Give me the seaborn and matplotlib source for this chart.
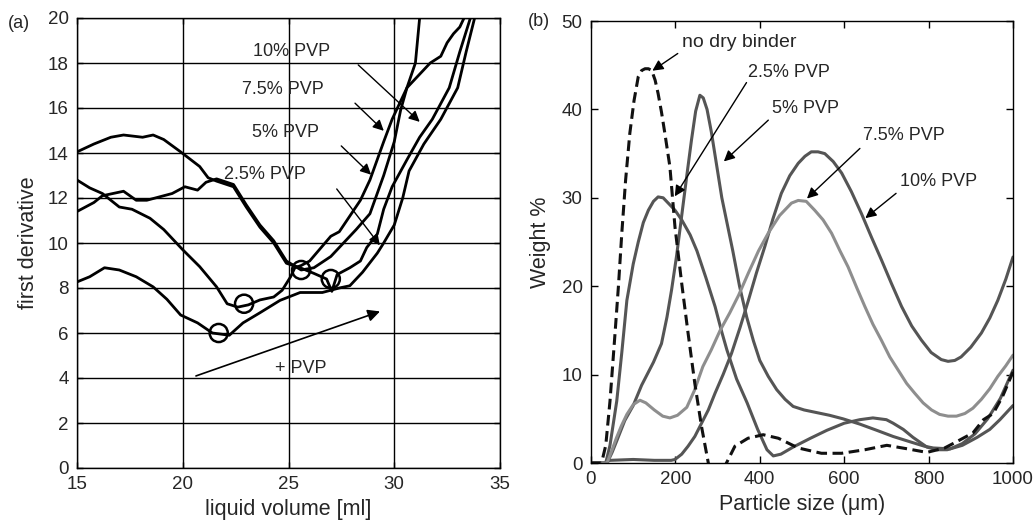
import pandas as pd
import seaborn as sns
import matplotlib.pyplot as plt

# ---- (a) first derivative vs liquid volume ----
c1_x = [15, 15.6, 16.3, 17.0, 17.8, 18.6, 19.25, 19.9, 20.7, 21.4, 22.2, 22.85, 23.65, 24.6, 25.55,
        26.6, 27.4, 27.9, 28.5, 29.2, 29.5, 30.0, 30.4, 30.7, 31.4, 32.2, 33.0, 33.4, 33.8]
c1_y = [8.27, 8.5, 8.9, 8.8, 8.5, 8.05, 7.5, 6.8, 6.45, 6.0, 5.9, 6.45, 6.9, 7.45, 7.8,
        7.8, 8.0, 8.1, 8.7, 9.55, 10.0, 10.8, 12.0, 13.2, 14.4, 15.5, 16.9, 18.5, 20.0]

c2_x = [15, 15.6, 16.2, 17.0, 17.6, 18.45, 19.1, 20.0, 20.8, 21.6, 22.1, 22.6, 23.1, 23.65, 24.3,
        24.7, 25.1, 25.3, 25.6, 26.0, 27.0, 27.4, 27.9, 28.4, 28.85, 29.5, 29.9, 30.6, 31.1, 31.7,
        32.2, 32.5, 32.8, 33.1, 33.3]
c2_y = [12.8, 12.45, 12.2, 11.6, 11.5, 11.1, 10.6, 9.7, 8.95, 8.05, 7.3, 7.15, 7.25, 7.47, 7.6,
        7.9, 8.5, 8.9, 9.0, 9.2, 10.3, 10.5, 11.2, 11.9, 12.8, 14.5, 15.5, 16.9, 17.4, 18.0,
        18.3, 18.9, 19.3, 19.6, 20.0]

c3_x = [15, 15.8, 16.2, 17.2, 17.8, 18.3, 18.9, 19.5, 20.1, 20.7, 21.1, 21.6, 22.4, 23.0, 23.65,
        24.3, 24.9, 25.6, 26.2, 27.0, 27.6, 28.2, 28.85, 29.5, 30.0, 30.3, 30.6, 31.0, 31.2]
c3_y = [11.4, 11.8, 12.1, 12.3, 11.9, 11.9, 12.05, 12.2, 12.5, 12.35, 12.7, 12.85, 12.6, 11.7, 10.8,
        10.1, 9.2, 8.8, 8.9, 9.4, 10.0, 10.6, 11.3, 13.0, 14.5, 15.9, 16.9, 18.0, 20.0]

c4_x = [15, 15.8, 16.6, 17.2, 18.1, 18.6, 19.1, 19.9, 20.8, 21.2, 21.6, 22.4, 23.0, 23.65, 24.3,
        24.9, 25.55, 26.2, 26.8, 27.05, 27.3, 27.9, 28.4, 28.7, 29.2, 29.5, 29.9, 30.6, 31.2, 31.8,
        32.6, 33.1, 33.6]
c4_y = [14.05, 14.4, 14.7, 14.8, 14.7, 14.8, 14.6, 14.05, 13.4, 12.9, 12.75, 12.5, 11.6, 10.7, 10.0,
        9.1, 8.9, 8.65, 8.4, 7.85, 8.6, 8.9, 9.2, 9.8, 10.4, 11.5, 12.5, 13.7, 14.7, 15.5,
        16.9, 18.5, 20.0]

min_x = [21.7, 22.9, 25.6, 27.0]
min_y = [6.0, 7.3, 8.8, 8.4]

a_labels = ["10% PVP", "7.5% PVP", "5% PVP", "2.5% PVP"]
a_text = [(23.33, 18.5), (22.8, 16.8), (23.27, 14.9), (21.95, 13.05)]
a_tail = [(28.2, 18.0), (28.05, 16.3), (27.4, 14.4), (27.2, 12.5)]
a_tip = [(31.3, 15.3), (29.6, 14.9), (29.0, 12.95), (29.4, 9.8)]

# ---- (b) weight % vs particle size ----
nb_x = [0, 25, 35, 45, 57, 65, 73, 82, 92, 102, 112, 120, 128, 136, 144, 152, 159, 167, 175, 187,
        199, 207, 215, 230, 246, 262, 278, 290, 305, 321, 341, 372, 408, 444, 491, 546, 594, 649,
        701, 750, 796, 838, 870, 905, 930, 953, 975, 1000]
nb_y = [0, 0, 2, 7, 14.7, 20, 26, 32, 37.3, 41, 43.7, 44.4, 44.6, 44.6, 44.4, 43.3, 41.8, 39.7, 37.3, 33.5,
        26.7, 23.5, 20.3, 14.7, 9.0, 4.1, 0, -1.5, -1.5, 0, 1.9, 2.8, 3.2, 2.8, 1.7, 1.1, 1.1, 1.5,
        2.0, 1.6, 1.2, 1.7, 2.5, 3.4, 4.9, 5.6, 7.5, 10.3]

p25_x = [0, 35, 45, 61, 73, 85, 100, 112, 124, 136, 148, 159, 171, 183, 199, 215, 235, 251, 272, 294,
         310, 322, 345, 370, 395, 417, 432, 450, 479, 520, 559, 600, 637, 668, 700, 716, 740, 763, 796,
         820, 844, 880, 915, 945, 969, 1000]
p25_y = [0, 0, 2, 7, 12.5, 18.4, 22.5, 25, 27.2, 28.6, 29.6, 30.1, 30.0, 29.4, 28.6, 27.5, 25.8, 24.0, 21, 17.7,
         14.8, 12.8, 9.5, 6.8, 3.8, 1.5, 0.8, 1.0, 1.8, 2.8, 3.7, 4.5, 4.9, 5.1, 4.9, 4.5, 3.8, 2.9, 1.8,
         1.5, 1.5, 2.0, 2.9, 3.8, 4.9, 6.5]

p5_x = [0, 38, 50, 61, 80, 100, 120, 148, 167, 180, 191, 203, 215, 227, 238, 248, 258, 266, 275, 285,
        295, 310, 323, 336, 352, 369, 385, 400, 420, 440, 460, 479, 505, 535, 565, 597, 637, 677, 716,
        756, 790, 811, 851, 880, 910, 940, 970, 1000]
p5_y = [0, 0, 1.2, 2.5, 4.8, 6.5, 8.8, 11.4, 13.5, 16.5, 19.6, 23.5, 28, 32.5, 36.5, 39.8, 41.6, 41.3, 40, 37.5,
        34.5, 30, 27, 24, 20, 16.5, 13.8, 11.6, 9.8, 8.3, 7.2, 6.4, 6.0, 5.7, 5.4, 5.0, 4.4, 3.7, 3.0,
        2.4, 1.9, 1.7, 1.6, 2.2, 3.3, 5.0, 7.3, 10.5]

p75_x = [0, 38, 50, 60, 72, 85, 100, 116, 130, 150, 170, 187, 205, 227, 245, 265, 285, 306, 329, 350,
         373, 397, 420, 447, 475, 491, 510, 530, 550, 570, 590, 609, 630, 649, 668, 688, 708, 728, 748,
         767, 787, 807, 826, 846, 866, 886, 905, 925, 945, 964, 983, 1000]
p75_y = [0, 0, 1.5, 2.8, 4.2, 5.5, 6.6, 7.1, 6.8, 6.0, 5.3, 5.1, 5.4, 6.3, 8.2, 10.9, 12.8, 15.0, 17.0, 19.0,
         21.5, 24, 26, 28, 29.4, 29.7, 29.6, 28.6, 27.5, 26, 24, 22.2, 19.8, 17.7, 15.7, 13.9, 12, 10.5, 9,
         7.9, 6.8, 6.0, 5.5, 5.3, 5.3, 5.6, 6.2, 7.2, 8.4, 9.8, 11, 12.2]

p10_x = [0, 30, 45, 100, 150, 190, 199, 215, 230, 246, 262, 278, 294, 313, 333, 353, 373, 392, 412, 431,
         451, 471, 491, 507, 522, 538, 554, 574, 594, 617, 641, 665, 688, 712, 736, 760, 783, 806, 830,
         846, 862, 877, 900, 925, 945, 964, 983, 1000]
p10_y = [0, 0, 0.3, 0.4, 0.3, 0.3, 0.4, 1.0, 1.9, 3.0, 4.5, 6.0, 7.9, 10, 12.4, 15.3, 18.4, 21.5, 24.5, 27.6,
         30.5, 32.5, 33.9, 34.7, 35.2, 35.2, 35.0, 34.1, 32.8, 30.7, 28.2, 25.5, 23.0, 20.3, 17.7, 15.5, 13.9, 12.5, 11.7,
         11.5, 11.6, 12.0, 13.1, 14.7, 16.4, 18.4, 20.8, 23.3]

b_labels = ["no dry binder", "2.5% PVP", "5% PVP", "7.5% PVP", "10% PVP"]
b_text = [(216, 47.6), (372, 44.2), (428, 40.1), (645, 37.1), (732, 31.8)]
b_tail = [(211, 46.5), (372, 43.3), (425, 39.0), (642, 35.8), (728, 30.7)]
b_tip = [(140, 44.2), (195, 29.9), (310, 33.9), (507, 29.7), (645, 27.5)]

sns.set_style("ticks")
plt.rcParams['font.family'] = ['Liberation Sans', 'DejaVu Sans']
plt.rcParams['axes.edgecolor'] = 'black'

fig = plt.figure(figsize=(10.35, 5.23), dpi=100)
ax1 = fig.add_axes([77 / 1035, 1 - 468 / 523, 423 / 1035, 450 / 523])
ax2 = fig.add_axes([591 / 1035, 1 - 463 / 523, 422 / 1035, 442 / 523])

# panel (a)
for xs, ys in [(c1_x, c1_y), (c2_x, c2_y), (c3_x, c3_y), (c4_x, c4_y)]:
    d = pd.DataFrame({"x": xs, "y": ys})
    sns.lineplot(data=d, x="x", y="y", ax=ax1, sort=False, estimator=None,
                 color="black", lw=2.0)
sns.scatterplot(x=min_x, y=min_y, ax=ax1, s=170, marker="o", facecolor="none",
                edgecolor="black", linewidth=1.8, zorder=5)

for lab, t, a, b in zip(a_labels, a_text, a_tail, a_tip):
    ax1.text(t[0], t[1], lab, fontsize=13, va="center", ha="left")
    ax1.annotate("", xy=b, xytext=a,
                 arrowprops=dict(arrowstyle="-|>", color="black", lw=1.0, mutation_scale=16))
ax1.text(24.35, 4.43, "+ PVP", fontsize=13, va="center", ha="left")
ax1.annotate("", xy=(29.45, 7.0), xytext=(20.5, 4.05),
             arrowprops=dict(arrowstyle="-|>", color="black", lw=1.2, mutation_scale=18))

ax1.set_xlim(15, 35)
ax1.set_ylim(0, 20)
ax1.set_xticks([15, 20, 25, 30, 35])
ax1.set_yticks(range(0, 21, 2))
ax1.grid(True, color="black", lw=1.0)
ax1.tick_params(direction="in", top=True, right=True, labelsize=13.5, length=4, width=1,
                color="black", pad=6)
ax1.set_xlabel("liquid volume [ml]", fontsize=15.5, labelpad=4)
ax1.set_ylabel("first derivative", fontsize=15.5, labelpad=6)
for s in ax1.spines.values():
    s.set_linewidth(1.0)

# panel (b)
dark = "#555555"
light = "#8e8e8e"
curves_b = [(p25_x, p25_y, dark), (p5_x, p5_y, dark), (p10_x, p10_y, dark), (p75_x, p75_y, light)]
for xs, ys, col in curves_b:
    d = pd.DataFrame({"x": xs, "y": ys})
    sns.lineplot(data=d, x="x", y="y", ax=ax2, sort=False, estimator=None, color=col, lw=2.2)
d = pd.DataFrame({"x": nb_x, "y": nb_y})
sns.lineplot(data=d, x="x", y="y", ax=ax2, sort=False, estimator=None, color="#111111",
             lw=2.2, dashes=False, linestyle=(0, (3.5, 1.8)))

for i, (lab, t, a, b) in enumerate(zip(b_labels, b_text, b_tail, b_tip)):
    ax2.text(t[0], t[1], lab, fontsize=14 if i == 0 else 13, va="center", ha="left")
    ax2.annotate("", xy=b, xytext=a,
                 arrowprops=dict(arrowstyle="-|>", color="black", lw=1.0, mutation_scale=16))

ax2.set_xlim(0, 1000)
ax2.set_ylim(0, 50)
ax2.set_xticks(range(0, 1001, 200))
ax2.set_yticks(range(0, 51, 10))
ax2.tick_params(direction="in", top=True, right=True, labelsize=13.5, length=5, width=1,
                color="black", pad=6)
ax2.set_xlabel("Particle size (\u03bcm)", fontsize=15.5, labelpad=4)
ax2.set_ylabel("Weight %", fontsize=15.5, labelpad=8)
for s in ax2.spines.values():
    s.set_linewidth(1.0)

fig.text(8 / 1035, 1 - 23 / 523, "(a)", fontsize=13, va="center", ha="left")
fig.text(528 / 1035, 1 - 22 / 523, "(b)", fontsize=13, va="center", ha="left")

fig.savefig("out.png", dpi=100)
